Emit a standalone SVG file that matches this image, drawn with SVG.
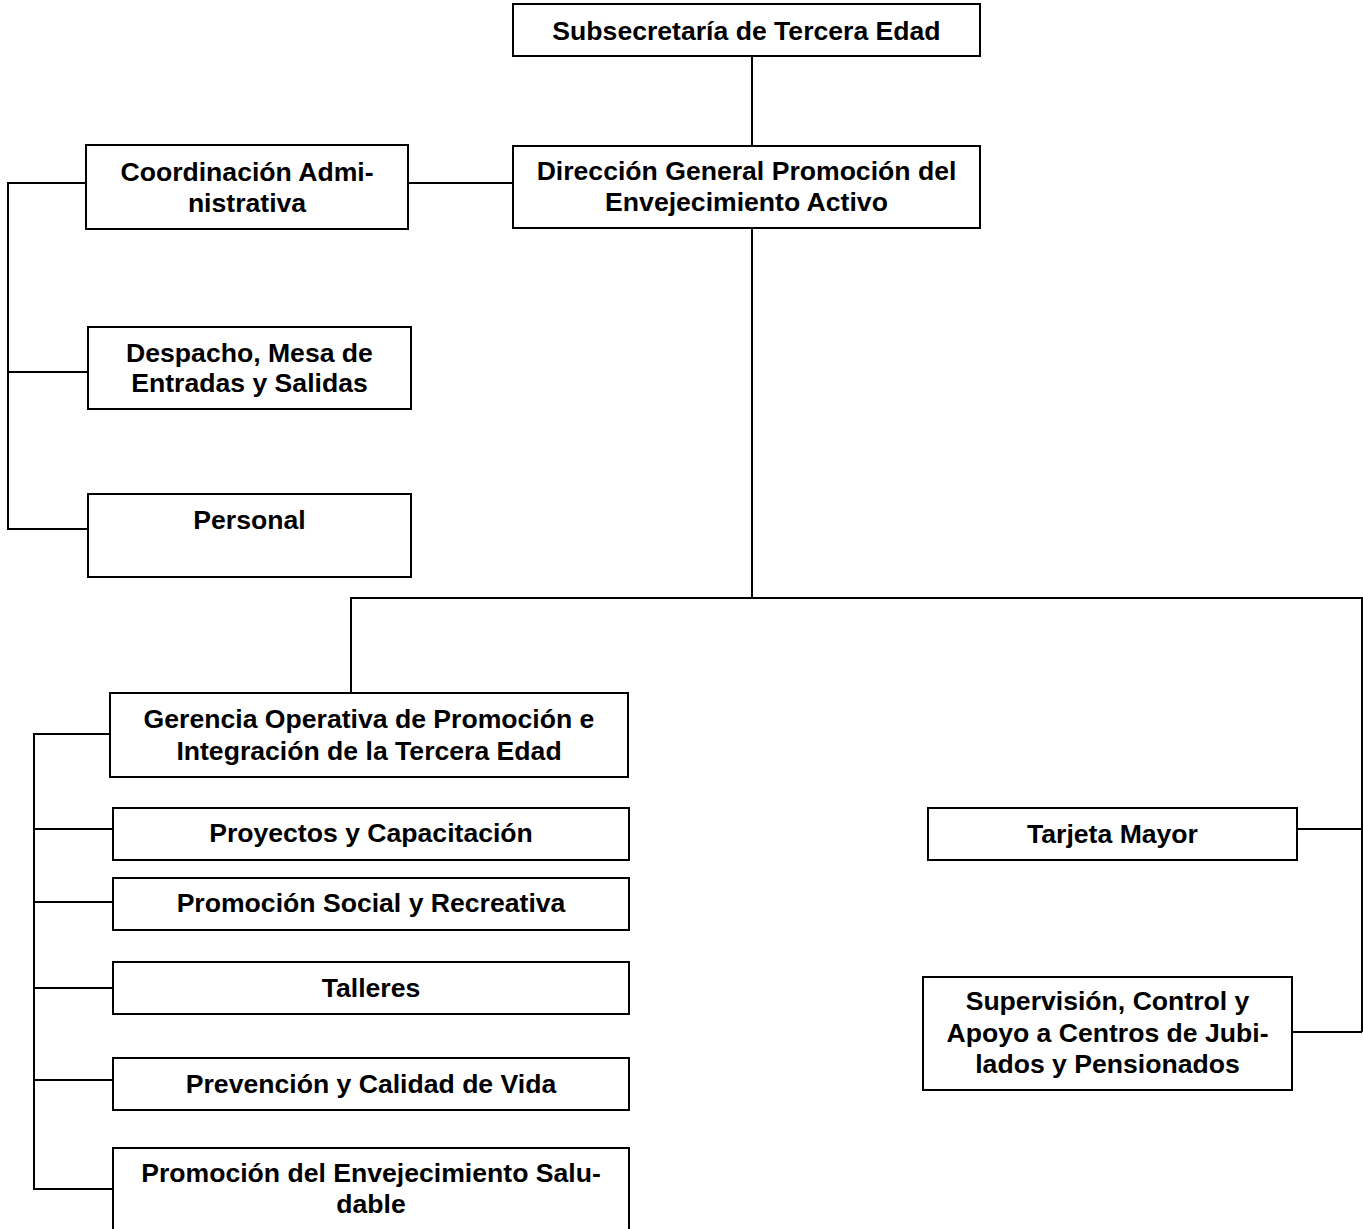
<svg xmlns="http://www.w3.org/2000/svg" width="1363" height="1229" viewBox="0 0 1363 1229">
<style>
.box{fill:#fff;stroke:#000;stroke-width:2}
.t{font-family:"Liberation Sans",Arial,sans-serif;font-weight:bold;font-size:26.6px;fill:#000;text-anchor:middle}
.c{fill:none;stroke:#000;stroke-width:2}
</style>
<rect width="1363" height="1229" fill="#fff"/>
<g id="connectors">
<path class="c" d="M752 56V146"/>
<path class="c" d="M752 228V598"/>
<path class="c" d="M351 693V598H1362V1032"/>
<path class="c" d="M1297 829H1362"/>
<path class="c" d="M1292 1032H1362"/>
<path class="c" d="M408 183H513"/>
<path class="c" d="M86 183H8V529H88"/>
<path class="c" d="M8 372H88"/>
<path class="c" d="M110 734H34V1189H113"/>
<path class="c" d="M34 829H113"/>
<path class="c" d="M34 902H113"/>
<path class="c" d="M34 988H113"/>
<path class="c" d="M34 1080H113"/>
</g>
<g id="subsecretaria">
<rect class="box" x="513" y="4" width="467" height="52"/>
<text class="t" x="746.5" y="40">Subsecretaría de Tercera Edad</text>
</g>
<g id="direccion">
<rect class="box" x="513" y="146" width="467" height="82"/>
<text class="t" x="746.5" y="180">Dirección General Promoción del</text>
<text class="t" x="746.5" y="211">Envejecimiento Activo</text>
</g>
<g id="coordinacion">
<rect class="box" x="86" y="145" width="322" height="84"/>
<text class="t" x="247" y="181">Coordinación Admi-</text>
<text class="t" x="247" y="212">nistrativa</text>
</g>
<g id="despacho">
<rect class="box" x="88" y="327" width="323" height="82"/>
<text class="t" x="249.5" y="362">Despacho, Mesa de</text>
<text class="t" x="249.5" y="392">Entradas y Salidas</text>
</g>
<g id="personal">
<rect class="box" x="88" y="494" width="323" height="83"/>
<text class="t" x="249.5" y="529">Personal</text>
</g>
<g id="gerencia">
<rect class="box" x="110" y="693" width="518" height="84"/>
<text class="t" x="369" y="728">Gerencia Operativa de Promoción e</text>
<text class="t" x="369" y="760">Integración de la Tercera Edad</text>
</g>
<g id="proyectos">
<rect class="box" x="113" y="808" width="516" height="52"/>
<text class="t" x="371" y="842">Proyectos y Capacitación</text>
</g>
<g id="promocion-social">
<rect class="box" x="113" y="878" width="516" height="52"/>
<text class="t" x="371" y="912">Promoción Social y Recreativa</text>
</g>
<g id="talleres">
<rect class="box" x="113" y="962" width="516" height="52"/>
<text class="t" x="371" y="997">Talleres</text>
</g>
<g id="prevencion">
<rect class="box" x="113" y="1058" width="516" height="52"/>
<text class="t" x="371" y="1093">Prevención y Calidad de Vida</text>
</g>
<g id="envejecimiento-saludable">
<rect class="box" x="113" y="1148" width="516" height="100"/>
<text class="t" x="371" y="1182">Promoción del Envejecimiento Salu-</text>
<text class="t" x="371" y="1213">dable</text>
</g>
<g id="tarjeta">
<rect class="box" x="928" y="808" width="369" height="52"/>
<text class="t" x="1112.5" y="843">Tarjeta Mayor</text>
</g>
<g id="supervision">
<rect class="box" x="923" y="977" width="369" height="113"/>
<text class="t" x="1107.5" y="1010">Supervisión, Control y</text>
<text class="t" x="1107.5" y="1042">Apoyo a Centros de Jubi-</text>
<text class="t" x="1107.5" y="1073">lados y Pensionados</text>
</g>
</svg>
